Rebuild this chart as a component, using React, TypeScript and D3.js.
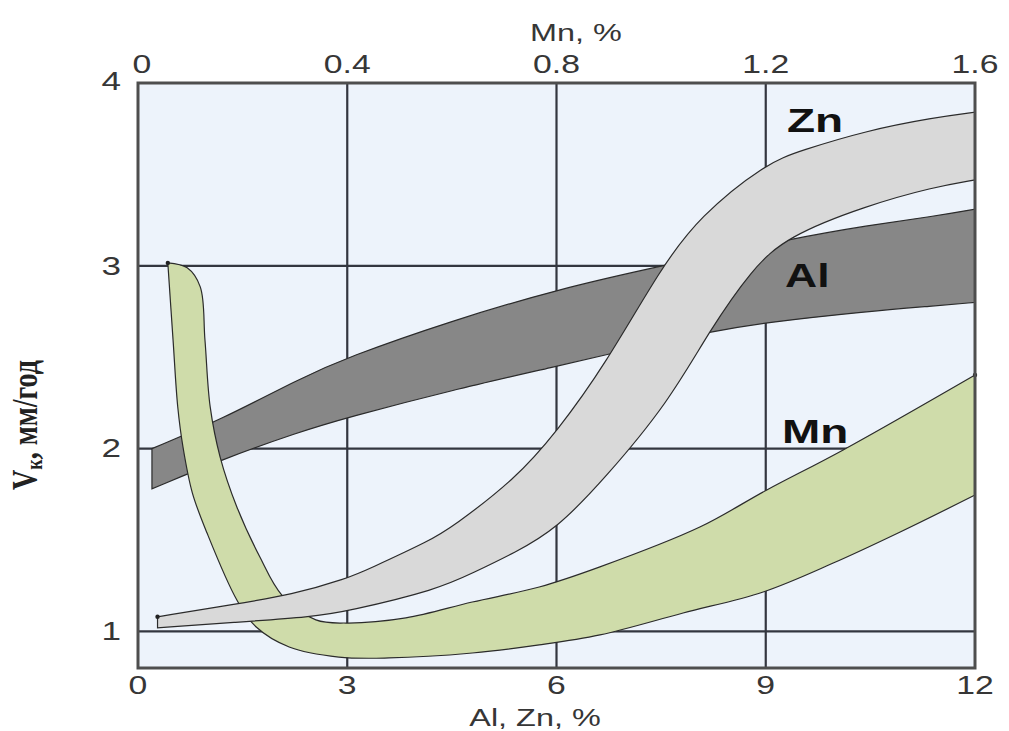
import React from "react";
import * as d3 from "d3";

type Pt = [number, number];

// Axis ticks
const alZnTicks = [0, 3, 6, 9, 12];
const mnTicks = [0, 0.4, 0.8, 1.2, 1.6];
const rateTicks = [1, 2, 3, 4];

// Corrosion rate bands (x in %, y in mm/year)
const alUpper: Pt[] = [[0.2, 2.0], [1.2, 2.16], [2.3, 2.38], [3, 2.5], [4.5, 2.7], [6, 2.87], [7.5, 3.0], [9.4, 3.15], [10.45, 3.22], [11.4, 3.27], [12, 3.31]];
const alLower: Pt[] = [[0.2, 1.78], [1.2, 1.94], [2.3, 2.09], [3, 2.17], [4.5, 2.32], [6, 2.45], [7.0, 2.54], [8.2, 2.64], [9, 2.69], [10.45, 2.75], [11.4, 2.78], [12, 2.8]];

const znUpper: Pt[] = [[0.28, 1.08], [1.4, 1.15], [2.2, 1.2], [3.0, 1.29], [3.3, 1.34], [4.2, 1.5], [4.5, 1.57], [5.4, 1.83], [6.0, 2.09], [6.7, 2.46], [7.5, 2.99], [8.05, 3.27], [9.0, 3.56], [9.5, 3.63], [10.45, 3.74], [11.4, 3.81], [12, 3.84]];
const znLower: Pt[] = [[0.28, 1.02], [1.4, 1.05], [2.5, 1.08], [3.0, 1.11], [4.3, 1.23], [4.8, 1.32], [5.4, 1.43], [6.0, 1.56], [6.7, 1.84], [7.6, 2.25], [8.2, 2.65], [8.8, 2.98], [9.3, 3.16], [10.45, 3.33], [11.4, 3.43], [12, 3.47]];

// Mn band (x in Mn %), both edges start at the top cap
const mnOuter: Pt[] = [[0.057, 3.016], [0.067, 2.595], [0.076, 2.228], [0.086, 2.009], [0.104, 1.757], [0.132, 1.538], [0.189, 1.172], [0.226, 1.024], [0.289, 0.915], [0.384, 0.86], [0.48, 0.855], [0.639, 0.882], [0.767, 0.926], [0.883, 0.981], [1.042, 1.101], [1.195, 1.216], [1.329, 1.374], [1.457, 1.544], [1.6, 1.746]];
const mnInner: Pt[] = [[0.057, 3.016], [0.094, 2.989], [0.119, 2.885], [0.128, 2.594], [0.138, 2.228], [0.157, 1.954], [0.189, 1.681], [0.233, 1.407], [0.275, 1.199], [0.34, 1.063], [0.398, 1.046], [0.512, 1.074], [0.639, 1.161], [0.767, 1.243], [0.883, 1.353], [1.074, 1.571], [1.202, 1.774], [1.348, 1.993], [1.6, 2.403]];

const W = 1009;
const H = 731;
const plot = { left: 138, right: 975, top: 83, bottom: 668 };

const xAlZn = d3.scaleLinear().domain([0, 12]).range([plot.left, plot.right]);
const xMn = d3.scaleLinear().domain([0, 1.6]).range([plot.left, plot.right]);
const yRate = d3.scaleLinear().domain([0.8, 4]).range([plot.bottom, plot.top]);

function edge(xs: d3.ScaleLinear<number, number>, curve: d3.CurveFactory) {
  return d3
    .line<Pt>()
    .x((d) => xs(d[0]))
    .y((d) => yRate(d[1]))
    .curve(curve);
}

function bandPath(a: Pt[], b: Pt[], xs: d3.ScaleLinear<number, number>, curve: d3.CurveFactory) {
  const gen = edge(xs, curve);
  const p1 = gen(a) as string;
  const p2 = gen([...b].reverse()) as string;
  return p1 + "L" + p2.slice(1) + "Z";
}

const SANS = "'Liberation Sans', Arial, sans-serif";
const SERIF = "'Liberation Serif', 'Times New Roman', serif";
const STRETCH = 1.35;

function WideText(props: {
  x: number;
  y: number;
  children: React.ReactNode;
  size: number;
  anchor?: string;
  weight?: string;
  fill?: string;
  baseline?: string;
}) {
  const { x, y, children, size, anchor = "middle", weight = "normal", fill = "#363636", baseline } = props;
  return (
    <text
      transform={`translate(${x},${y}) scale(${STRETCH},1)`}
      textAnchor={anchor}
      fontFamily={SANS}
      fontSize={size}
      fontWeight={weight}
      fill={fill}
      dominantBaseline={baseline}
    >
      {children}
    </text>
  );
}

export default function App() {
  const outline = "#2b2b2b";
  const smooth = d3.curveBasis;
  const cap = d3.curveCatmullRom.alpha(0.5);
  return (
    <svg
      width={W}
      height={H}
      viewBox={`0 0 ${W} ${H}`}
      style={{ position: "absolute", left: 0, top: 0, background: "#ffffff" }}
    >
      <rect x={plot.left} y={plot.top} width={plot.right - plot.left} height={plot.bottom - plot.top} fill="#edf3fb" />

      {/* grid */}
      {alZnTicks.slice(1, -1).map((t) => (
        <line key={"gx" + t} x1={xAlZn(t)} x2={xAlZn(t)} y1={plot.top} y2={plot.bottom} stroke="#33363f" strokeWidth={2.2} />
      ))}
      {rateTicks.filter((t) => t < 4).map((t) => (
        <line key={"gy" + t} x1={plot.left} x2={plot.right} y1={yRate(t)} y2={yRate(t)} stroke="#33363f" strokeWidth={2.2} />
      ))}

      {/* bands */}
      <path d={bandPath(alUpper, alLower, xAlZn, smooth)} fill="#878787" stroke={outline} strokeWidth={1.2} />
      <path d={bandPath(mnOuter, mnInner, xMn, cap)} fill="#cfdcaa" stroke={outline} strokeWidth={1.2} />
      <path d={bandPath(znUpper, znLower, xAlZn, smooth)} fill="#d9d9d9" stroke={outline} strokeWidth={1.2} />

      {/* end dots */}
      <circle cx={xAlZn(znUpper[0][0])} cy={yRate(znUpper[0][1])} r={2.2} fill="#222" />
      <circle cx={xMn(mnOuter[0][0])} cy={yRate(mnOuter[0][1])} r={2.2} fill="#222" />
      <circle cx={xMn(mnInner[mnInner.length - 1][0])} cy={yRate(mnInner[mnInner.length - 1][1])} r={2.2} fill="#222" />

      {/* frame */}
      <rect x={plot.left} y={plot.top} width={plot.right - plot.left} height={plot.bottom - plot.top} fill="none" stroke="#4e4e4e" strokeWidth={3} />

      {/* series labels */}
      <WideText x={787} y={132} size={34} anchor="start" weight="bold" fill="#111">Zn</WideText>
      <WideText x={785} y={287} size={33} anchor="start" weight="bold" fill="#111">Al</WideText>
      <WideText x={782} y={443} size={34} anchor="start" weight="bold" fill="#111">Mn</WideText>

      {/* bottom axis */}
      {alZnTicks.map((t) => (
        <WideText key={"bt" + t} x={xAlZn(t)} y={694} size={25}>{String(t)}</WideText>
      ))}
      <WideText x={535} y={726} size={24}>Al, Zn, %</WideText>

      {/* top axis */}
      {mnTicks.map((t) => (
        <WideText key={"tt" + t} x={xMn(t) + (t === 0 ? 4 : 0)} y={73} size={25}>{String(t)}</WideText>
      ))}
      <WideText x={576} y={41} size={24}>Mn, %</WideText>

      {/* left axis */}
      {rateTicks.map((t) => (
        <WideText key={"lt" + t} x={121} y={yRate(t) + (t === 4 ? -2 : 0)} size={26} anchor="end" baseline="central">{String(t)}</WideText>
      ))}
      <text
        transform={`translate(37,425) rotate(-90) scale(1,1.3)`}
        textAnchor="middle"
        fontFamily={SERIF}
        fontWeight="bold"
        fontSize={28}
        fill="#222"
      >
        V<tspan fontSize={18} dy={4}>к</tspan>
        <tspan dy={-4}>, мм/год</tspan>
      </text>
    </svg>
  );
}
